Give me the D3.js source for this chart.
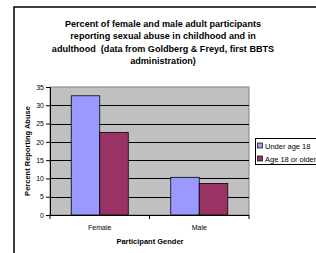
<!DOCTYPE html>
<html><head><meta charset="utf-8">
<script src="https://cdn.jsdelivr.net/npm/d3@7"></script>
<style>body{margin:0;background:#fff}svg{display:block}text{font-family:Arial,"Liberation Sans",sans-serif}</style>
</head><body>
<script>
const categories = ["Female", "Male"];
const seriesNames = ["Under age 18", "Age 18 or older"];
const under18 = [32.6, 10.3];
const age18plus = [22.6, 8.6];
const yTicks = [0, 5, 10, 15, 20, 25, 30, 35];
const titleLines = ["Percent of female and male adult participants", "reporting sexual abuse in childhood and in", "adulthood  (data from Goldberg & Freyd, first BBTS", "administration)"];
const colors = ["#9999ff", "#993366"];

const W = 316, H = 253;
const svg = d3.select("body").append("svg").attr("width", W).attr("height", H);

// outer frame
svg.append("rect").attr("x", 14).attr("y", 7).attr("width", 400).attr("height", 400)
  .attr("fill", "none").attr("stroke", "#000").attr("stroke-width", 1.5);

const m = {left: 50, top: 87, right: 249, bottom: 215};
const x0 = d3.scaleBand().domain(categories).range([m.left, m.right]).paddingInner(0).paddingOuter(0);
const x1 = d3.scaleBand().domain(seriesNames).range([0, x0.bandwidth()]).paddingInner(0).paddingOuter(0.745);
const y = d3.scaleLinear().domain([0, 35]).range([m.bottom, m.top]);

svg.append("rect").attr("x", m.left).attr("y", m.top).attr("width", m.right - m.left).attr("height", m.bottom - m.top)
  .attr("fill", "#c0c0c0").attr("stroke", "#808080").attr("stroke-width", 1);

svg.append("g").selectAll("line").data(yTicks.filter(d => d > 0 && d < 35)).join("line")
  .attr("x1", m.left).attr("x2", m.right).attr("y1", d => Math.round(y(d)) + 0.5).attr("y2", d => Math.round(y(d)) + 0.5)
  .attr("stroke", "#000").attr("stroke-width", 1);

const data = categories.map((c, i) => ({cat: c, vals: [under18[i], age18plus[i]]}));
svg.append("g").selectAll("g").data(data).join("g")
  .attr("transform", d => `translate(${x0(d.cat)},0)`)
  .selectAll("rect").data(d => d.vals.map((v, j) => ({v, j}))).join("rect")
  .attr("x", d => x1(seriesNames[d.j])).attr("width", x1.bandwidth())
  .attr("y", d => y(d.v)).attr("height", d => y(0) - y(d.v))
  .attr("fill", d => colors[d.j]).attr("stroke", "#000").attr("stroke-width", 0.8);

// y axis
const yAxis = d3.axisLeft(y).tickValues(yTicks).tickSize(4).tickPadding(2);
const gy = svg.append("g").attr("transform", `translate(${m.left},0)`).call(yAxis);
gy.select(".domain").attr("stroke", "#000");
gy.selectAll("text").attr("font-size", 7).attr("fill", "#000").attr("font-family", "Arial, Liberation Sans, sans-serif");

// x axis
const gx = svg.append("g").attr("transform", `translate(0,${m.bottom})`);
gx.append("line").attr("x1", m.left).attr("x2", m.right).attr("y1", 0.5).attr("y2", 0.5).attr("stroke", "#000");
const bounds = [m.left, ...categories.map(c => x0(c) + x0.bandwidth())];
gx.selectAll("line.t").data(bounds).join("line").attr("class", "t")
  .attr("x1", d => d).attr("x2", d => d).attr("y1", 0).attr("y2", 4).attr("stroke", "#000");
gx.selectAll("text").data(categories).join("text")
  .attr("x", d => x0(d) + x0.bandwidth() / 2).attr("y", 15)
  .attr("text-anchor", "middle").attr("font-size", 7).text(d => d);

svg.append("text").attr("x", 150).attr("y", 244).attr("text-anchor", "middle")
  .attr("font-size", 7.5).attr("font-weight", "bold").text("Participant Gender");

svg.append("text").attr("transform", `translate(30,151) rotate(-90)`).attr("text-anchor", "middle")
  .attr("font-size", 7.5).attr("font-weight", "bold").text("Percent Reporting Abuse");

// title
svg.append("g").selectAll("text").data(titleLines).join("text")
  .attr("x", 163).attr("y", (d, i) => 27 + i * 12.3).attr("text-anchor", "middle")
  .attr("xml:space", "preserve").style("white-space", "pre")
  .attr("font-size", 9.1).attr("font-weight", "bold").text(d => d);

// legend
const lg = svg.append("g").attr("transform", "translate(255.5,138.5)");
lg.append("rect").attr("x", 0).attr("y", 0).attr("width", 100).attr("height", 26)
  .attr("fill", "#fff").attr("stroke", "#000").attr("stroke-width", 1);
const items = lg.selectAll("g").data(seriesNames).join("g").attr("transform", (d, i) => `translate(2,${3 + i * 13})`);
items.append("rect").attr("width", 5).attr("height", 5).attr("y", 1.5).attr("fill", (d, i) => colors[i]).attr("stroke", "#000").attr("stroke-width", 0.7);
items.append("text").attr("x", 7.5).attr("y", 7).attr("font-size", 7.5).text(d => d);
</script>
</body></html>
